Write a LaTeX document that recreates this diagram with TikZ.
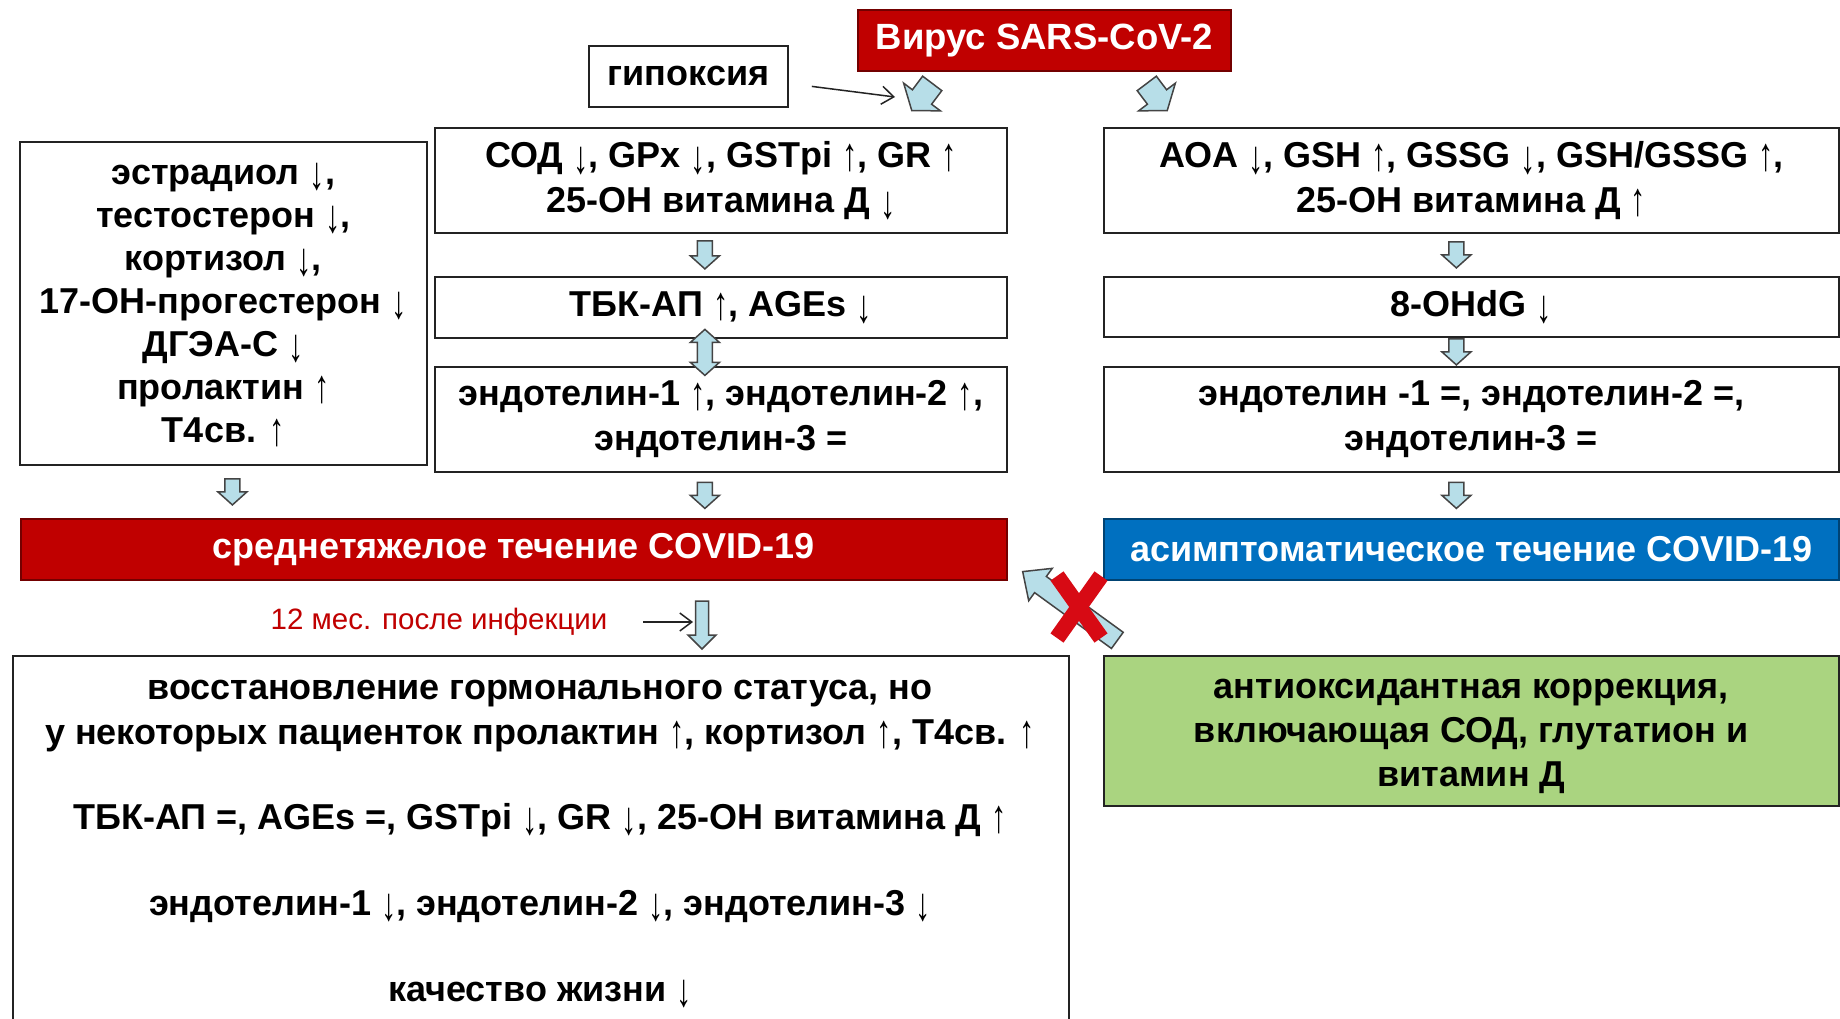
\documentclass[tikz,border=0pt]{standalone}
\usepackage{fontspec}
\setmainfont{Liberation Sans}
\newfontfamily\arrfont{Liberation Sans}
\usetikzlibrary{calc,arrows.meta}
\definecolor{dred}{RGB}{192,0,0}
\definecolor{dblue}{RGB}{0,112,192}
\definecolor{lgreen}{RGB}{170,212,128}
\definecolor{lblue}{RGB}{183,222,232}
\definecolor{xred}{RGB}{215,10,20}
\definecolor{edge}{RGB}{35,35,35}
\newcommand\uarr{{\arrfont\mdseries\raisebox{-0.1em}{\scalebox{0.85}[1.3]{↑}}}}
\newcommand\darr{{\arrfont\mdseries\raisebox{-0.16em}{\scalebox{0.85}[1.3]{↓}}}}
\newcommand\blockarr[6]{%
  \begin{scope}[shift={#1}, rotate=#2]
    \draw[bastyle] ({-#3/2},{#4/2}) -- ({#3/2-#6},{#4/2}) -- ({#3/2-#6},{#5/2}) -- ({#3/2},0)
      -- ({#3/2-#6},{-#5/2}) -- ({#3/2-#6},{-#4/2}) -- ({-#3/2},{-#4/2}) -- cycle;
  \end{scope}}
\newcommand\blockdarr[6]{%
  \begin{scope}[shift={#1}, rotate=#2]
    \draw[bastyle] ({-#3/2},0) -- ({-#3/2+#6},{#5/2}) -- ({-#3/2+#6},{#4/2}) -- ({#3/2-#6},{#4/2})
      -- ({#3/2-#6},{#5/2}) -- ({#3/2},0) -- ({#3/2-#6},{-#5/2}) -- ({#3/2-#6},{-#4/2})
      -- ({-#3/2+#6},{-#4/2}) -- ({-#3/2+#6},{-#5/2}) -- cycle;
  \end{scope}}
\tikzset{
  box/.style={draw=edge, line width=1.8pt, fill=white, align=center, inner sep=0pt,
    anchor=north west, font=\bfseries\fontsize{36}{45}\selectfont},
  boxtext/.style={align=center, inner sep=0pt, font=\bfseries\fontsize{36}{45}\selectfont},
  bastyle/.style={fill=lblue, draw=edge!85, line width=1.5pt, line join=miter},
  thinarr/.style={line width=1.5pt, draw=edge, -{Straight Barb[length=12pt,width=18pt,line width=1.5pt]}},
  xstroke/.style={draw=xred, line width=16pt, line cap=butt},
}
\begin{document}
\begin{tikzpicture}[x=1pt,y=-1pt]
\useasboundingbox[fill=white] (0,0) rectangle (1840,1019);
% boxes
\node[box, fill=dred, draw=dred!60!black, text=white, minimum width=373pt, minimum height=61pt, font=\bfseries\fontsize{36.5}{45}\selectfont] (virus) at (857,9) {Вирус SARS-CoV-2};
\node[box, minimum width=199pt, minimum height=61pt] (hyp) at (588,45) {гипоксия};
\node[box, minimum width=407pt, minimum height=323pt] (horm) at (19,141) {};
\node[boxtext, font=\bfseries\fontsize{36}{43}\selectfont] (hormtxt) at ($(horm.center)+(0,2)$)
  {эстрадиол \darr,\\ тестостерон \darr,\\ кортизол \darr,\\ 17-ОН-прогестерон \darr\\ ДГЭА-С \darr\\ пролактин \uarr\\ Т4св. \uarr};
\node[box, minimum width=572pt, minimum height=105pt] (sod) at (434,127)
  {СОД \darr, GPx \darr, GSTpi \uarr, GR \uarr\\ 25-ОН витамина Д \darr};
\node[box, minimum width=572pt, minimum height=61pt] (tbk) at (434,276) {ТБК-АП \uarr, AGEs \darr};
\node[box, minimum width=572pt, minimum height=105pt] (endL) at (434,366)
  {эндотелин-1 \uarr, эндотелин-2 \uarr,\\ эндотелин-3 =};
\node[box, fill=dred, draw=dred!60!black, text=white, minimum width=986pt, minimum height=61pt] (red) at (20,518)
  {среднетяжелое течение COVID-19};
\node[box, minimum width=735pt, minimum height=105pt] (aoa) at (1103,127)
  {АОА \darr, GSH \uarr, GSSG \darr, GSH/GSSG \uarr,\\ 25-ОН витамина Д \uarr};
\node[box, minimum width=735pt, minimum height=60pt] (ohdg) at (1103,276) {8-OHdG \darr};
\node[box, minimum width=735pt, minimum height=105pt] (endR) at (1103,366)
  {эндотелин -1 =, эндотелин-2 =,\\ эндотелин-3 =};
\node[box, fill=dblue, draw=dblue!60!black, text=white, minimum width=735pt, minimum height=61pt] (blue) at (1103,518)
  {асимптоматическое течение COVID-19};
\node[box, fill=lgreen, minimum width=735pt, minimum height=150pt] (green) at (1103,655) {};
\node[boxtext, font=\bfseries\fontsize{36}{44}\selectfont] (greentxt) at ($(green.center)+(0,5)$)
  {антиоксидантная коррекция,\\ включающая СОД, глутатион и\\ витамин Д};
\node[box, minimum width=1056pt, minimum height=390pt] (bot) at (12,655) {};
\node[boxtext] (bottxt) at (540,844)
  {восстановление гормонального статуса, но\\ у некоторых пациенток пролактин \uarr, кортизол \uarr, Т4св. \uarr\\[40pt]
   ТБК-АП =, AGEs =, GSTpi \darr, GR \darr, 25-ОН витамина Д \uarr\\[41pt]
   эндотелин-1 \darr, эндотелин-2 \darr, эндотелин-3 \darr\\[41pt]
   качество жизни \darr};
\node[text=dred, inner sep=0pt, font=\fontsize{29.5}{32}\selectfont] (l12) at (439,622) {12 мес. после инфекции};
% block arrows
\coordinate (ba1) at (922,97);
\coordinate (ba2) at (1157,97);
\coordinate (ba12) at (702,625);
\blockarr{(ba1)}{233}{34}{24}{46}{17}
\blockarr{(ba2)}{-53}{34}{24}{46}{17}
\blockarr{($(sod.south)!.5!(tbk.north)+(-16,0)$)}{-90}{28}{15}{29}{13}
\blockdarr{($(tbk.south)!.5!(endL.north)+(-16,0)$)}{-90}{46}{15}{29}{13}
\blockarr{($(endL.south)!.5!(red.north -| endL.south)+(-16,0)$)}{-90}{26}{15}{29}{13}
\blockarr{($(horm.south)!.5!(red.north -| horm.south)+(9,0)$)}{-90}{26}{15}{29}{13}
\blockarr{($(aoa.south)!.5!(ohdg.north)+(-15,0)$)}{-90}{26}{15}{29}{13}
\blockarr{($(ohdg.south)!.5!(endR.north)+(-15,0)$)}{-90}{26}{15}{29}{13}
\blockarr{($(endR.south)!.5!(blue.north)+(-15,0)$)}{-90}{26}{15}{29}{13}
\blockarr{(ba12)}{-90}{48}{13}{28}{14}
\blockarr{(1070,606)}{144}{117}{20}{40}{22}
% red cross
\draw[xstroke] (1057,576) -- (1101,638);
\draw[xstroke] (1101,576) -- (1057,638);
% thin arrows
\draw[thinarr] ($(hyp.east)+(23,10)$) -- ($(ba1)+(-27,0)$);
\draw[thinarr] (643,622) -- ($(ba12 |- l12.east)+(-9,0)$);
\end{tikzpicture}
\end{document}
